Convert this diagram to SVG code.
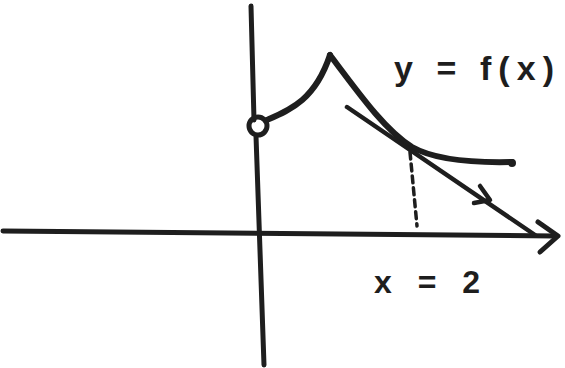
<svg xmlns="http://www.w3.org/2000/svg" width="565" height="368" viewBox="0 0 565 368">
<style>
.s{fill:none;stroke:#1e1e1e;stroke-linecap:round;stroke-linejoin:round}
.t{font-family:"Liberation Sans",Arial,sans-serif;font-weight:bold;fill:#1e1e1e}
</style>
<rect width="565" height="368" fill="#ffffff"/>
<!-- axes -->
<path class="s" stroke-width="5" d="M251 6 L254 120 M256 136 L264 365"/>
<path class="s" stroke-width="5" d="M3 231 L555 236"/>
<path class="s" stroke-width="5" d="M538 222 L558 236 L540 252"/>
<!-- curve -->
<circle class="s" stroke-width="5" cx="258" cy="126" r="9"/>
<path class="s" stroke-width="6" d="M267 120 C290 110 315 100 330 55"/>
<path class="s" stroke-width="6" d="M330 55 C360 95 385 130 412 147 C435 160 470 163 512 162"/>
<circle cx="512" cy="163" r="4" fill="#1e1e1e"/>
<!-- tangent -->
<path class="s" stroke-width="4.5" d="M347 107 L535 235"/>
<path class="s" stroke-width="4.5" d="M480 186 L490 200 L474 203"/>
<!-- dashed -->
<path class="s" stroke-width="3.5" stroke-dasharray="7 5" d="M410 152 L417 226"/>
<!-- labels -->
<text class="t" x="394" y="80" font-size="34" textLength="160" lengthAdjust="spacing">y = f(x)</text>
<text class="t" x="374" y="293" font-size="32" textLength="106" lengthAdjust="spacing">x = 2</text>
</svg>
